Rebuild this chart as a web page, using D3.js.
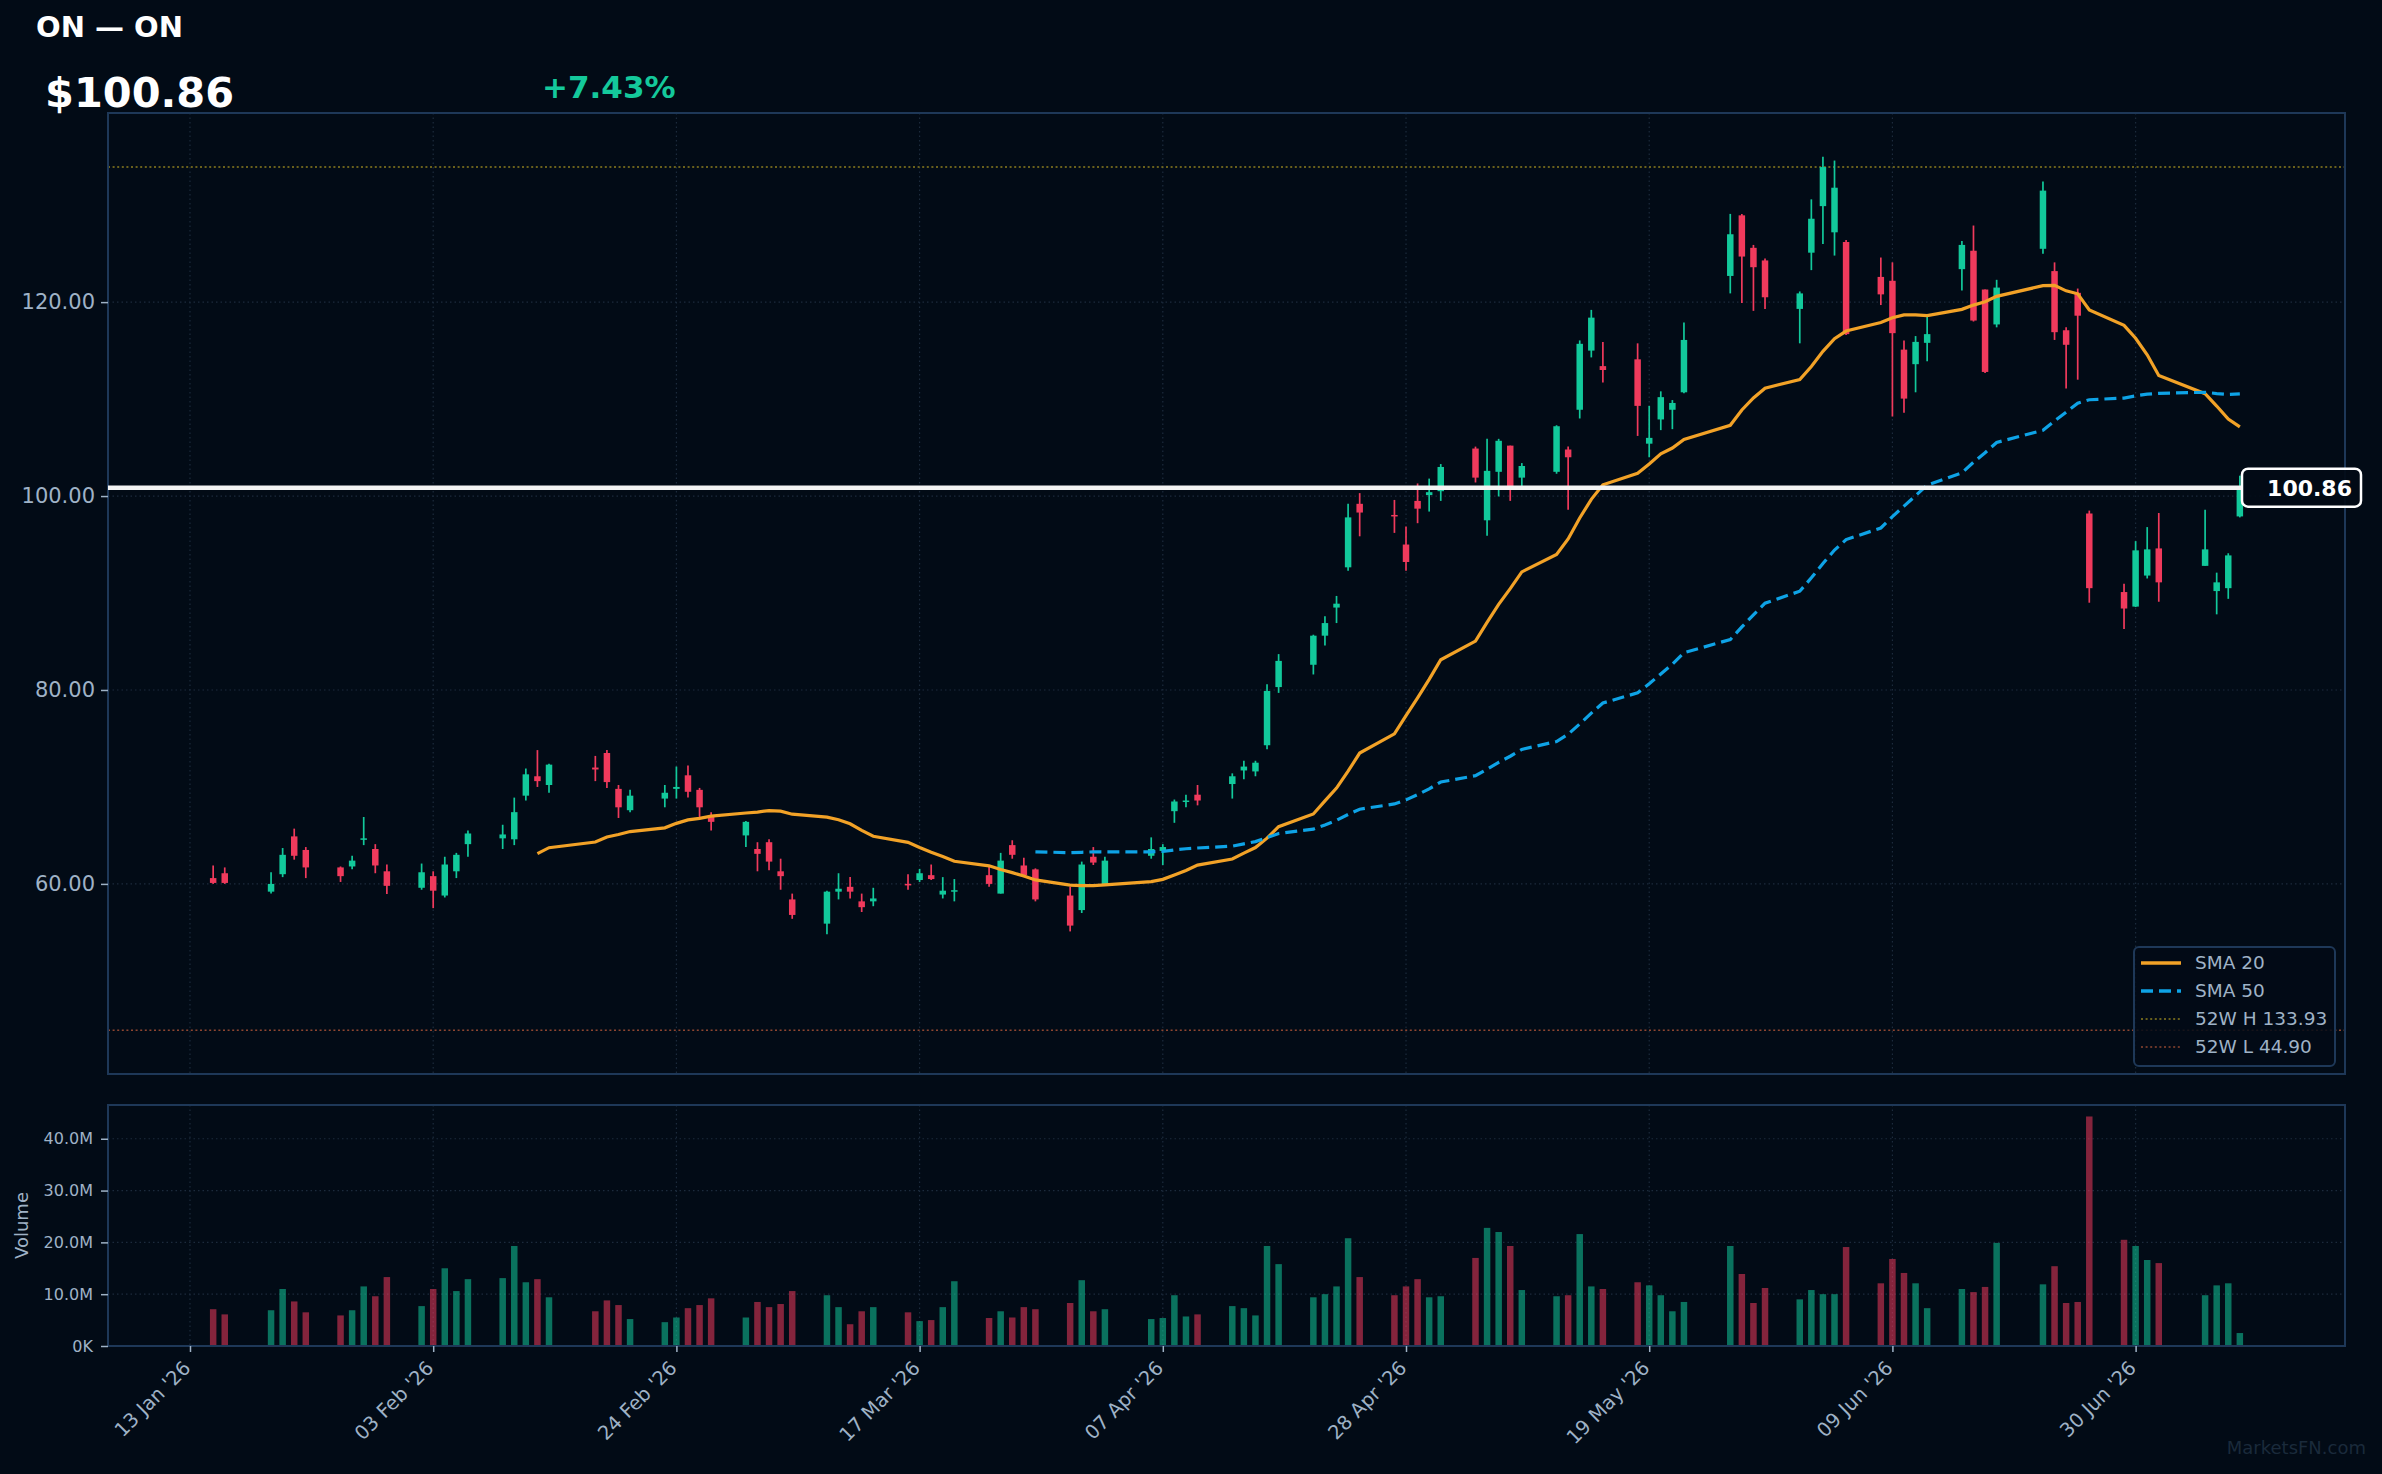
<!DOCTYPE html>
<html>
<head>
<meta charset="utf-8">
<script src="https://cdn.jsdelivr.net/npm/d3@7"></script>
<style>
  body { margin: 0; background: #020b16; }
  svg { display: block; }
  text { font-family: "DejaVu Sans", sans-serif; }
</style>
</head>
<body>
<div id="chart"></div>
<script>
const ticker = "ON — ON"
const lastPrice = 100.86
const changePct = 7.43
const high52 = 133.93
const low52 = 44.90

const dates = [
  "2026-01-15","2026-01-16","2026-01-20","2026-01-21","2026-01-22","2026-01-23",
  "2026-01-26","2026-01-27","2026-01-28","2026-01-29","2026-01-30",
  "2026-02-02","2026-02-03","2026-02-04","2026-02-05","2026-02-06",
  "2026-02-09","2026-02-10","2026-02-11","2026-02-12","2026-02-13",
  "2026-02-17","2026-02-18","2026-02-19","2026-02-20",
  "2026-02-23","2026-02-24","2026-02-25","2026-02-26","2026-02-27",
  "2026-03-02","2026-03-03","2026-03-04","2026-03-05","2026-03-06",
  "2026-03-09","2026-03-10","2026-03-11","2026-03-12","2026-03-13",
  "2026-03-16","2026-03-17","2026-03-18","2026-03-19","2026-03-20",
  "2026-03-23","2026-03-24","2026-03-25","2026-03-26","2026-03-27",
  "2026-03-30","2026-03-31","2026-04-01","2026-04-02",
  "2026-04-06","2026-04-07","2026-04-08","2026-04-09","2026-04-10",
  "2026-04-13","2026-04-14","2026-04-15","2026-04-16","2026-04-17",
  "2026-04-20","2026-04-21","2026-04-22","2026-04-23","2026-04-24",
  "2026-04-27","2026-04-28","2026-04-29","2026-04-30","2026-05-01",
  "2026-05-04","2026-05-05","2026-05-06","2026-05-07","2026-05-08",
  "2026-05-11","2026-05-12","2026-05-13","2026-05-14","2026-05-15",
  "2026-05-18","2026-05-19","2026-05-20","2026-05-21","2026-05-22",
  "2026-05-26","2026-05-27","2026-05-28","2026-05-29",
  "2026-06-01","2026-06-02","2026-06-03","2026-06-04","2026-06-05",
  "2026-06-08","2026-06-09","2026-06-10","2026-06-11","2026-06-12",
  "2026-06-15","2026-06-16","2026-06-17","2026-06-18",
  "2026-06-22","2026-06-23","2026-06-24","2026-06-25","2026-06-26",
  "2026-06-29","2026-06-30","2026-07-01","2026-07-02",
  "2026-07-06","2026-07-07","2026-07-08","2026-07-09"
]

const opens = [
  60.6, 61.1, 59.2, 61.0, 64.9, 63.5, 61.7, 61.8, 64.6, 63.6,
  61.3, 59.6, 60.8, 58.8, 61.3, 64.1, 64.7, 64.6, 69.1, 71.1,
  70.2, 72.0, 73.5, 69.8, 67.6, 68.8, 69.8, 71.2, 69.7, 67.0,
  65.0, 63.6, 64.3, 61.3, 58.4, 55.9, 59.2, 59.7, 58.2, 58.2,
  60.0, 60.4, 60.9, 58.9, 59.3, 60.9, 59.0, 64.0, 61.9, 61.5,
  58.8, 57.3, 62.8, 59.9, 62.9, 63.4, 67.5, 68.5, 69.2, 70.3,
  71.7, 71.6, 74.3, 80.3, 82.6, 85.6, 88.5, 92.65, 99.2, 98.05,
  95.0, 99.5, 100.1, 100.5, 104.9, 97.5, 102.5, 105.2, 101.9, 102.5,
  104.8, 108.9, 115.0, 113.4, 114.1, 105.4, 107.9, 108.9, 110.7, 122.7,
  128.95, 125.6, 124.3, 119.3, 125.1, 129.9, 127.2, 126.2, 122.6, 122.2,
  115.1, 113.6, 115.8, 123.4, 125.3, 121.3, 117.7, 125.5, 123.2, 117.1,
  120.96, 98.2, 90.1, 88.6, 91.8, 94.6, 92.8, 90.2, 90.5, 97.9
]

const highs = [
  61.9, 61.7, 61.2, 63.7, 65.7, 63.8, 61.8, 62.9, 66.9, 64.1,
  62.0, 62.1, 61.3, 62.8, 63.2, 65.5, 66.1, 68.9, 71.9, 73.8,
  72.4, 73.2, 73.8, 70.2, 69.7, 70.2, 72.1, 72.2, 69.9, 67.4,
  66.5, 64.3, 64.6, 62.6, 59.0, 59.3, 61.1, 60.7, 59.0, 59.6,
  61.0, 61.55, 62.0, 60.7, 60.5, 61.8, 63.2, 64.5, 62.7, 61.6,
  59.7, 62.3, 63.8, 62.8, 64.8, 64.1, 68.7, 69.2, 70.2, 71.4,
  72.7, 72.7, 80.6, 83.7, 85.7, 87.6, 89.7, 99.2, 100.3, 99.6,
  96.85, 101.3, 101.8, 103.3, 105.1, 105.9, 105.9, 105.2, 103.4, 107.3,
  105.1, 116.05, 119.2, 115.9, 115.75, 109.3, 110.8, 109.9, 117.9, 129.1,
  129.1, 125.9, 124.5, 121.1, 130.6, 135.0, 134.6, 126.4, 124.6, 124.1,
  116.05, 116.5, 118.6, 126.3, 127.9, 121.3, 122.3, 132.45, 124.1, 117.4,
  121.4, 98.5, 90.95, 95.35, 96.8, 98.25, 98.6, 92.1, 94.1, 102.1
]

const lows = [
  60.0, 60.0, 59.0, 60.7, 62.5, 60.6, 60.2, 61.5, 64.0, 61.1,
  58.97, 59.4, 57.5, 58.6, 60.6, 62.8, 63.6, 64.0, 68.6, 70.0,
  69.4, 70.6, 69.9, 66.8, 67.4, 67.9, 68.8, 68.9, 66.9, 65.5,
  63.8, 61.3, 61.4, 59.4, 56.4, 54.8, 58.4, 58.5, 57.1, 57.7,
  59.4, 60.2, 60.4, 58.5, 58.2, 59.7, 59.0, 62.6, 60.7, 58.2,
  55.1, 57.0, 61.95, 59.8, 62.6, 61.95, 66.3, 67.9, 68.1, 68.8,
  70.8, 71.1, 73.9, 79.7, 81.6, 84.6, 86.9, 92.3, 95.85, 96.2,
  92.3, 97.2, 98.4, 99.5, 101.4, 95.9, 99.96, 99.5, 100.8, 102.3,
  98.6, 108.0, 114.3, 111.7, 106.2, 104.0, 106.8, 106.9, 110.6, 120.9,
  119.9, 119.1, 119.3, 115.75, 123.3, 126.0, 124.8, 116.6, 119.7, 108.2,
  108.6, 110.7, 113.9, 121.2, 118.0, 112.7, 117.4, 125.0, 116.1, 111.1,
  112.0, 89.0, 86.3, 88.55, 91.5, 89.1, 92.8, 87.8, 89.4, 97.8
]

const closes = [
  60.1, 60.1, 60.0, 63.0, 62.9, 61.7, 60.8, 62.4, 64.7, 61.9,
  59.8, 61.2, 59.3, 62.0, 63.0, 65.2, 65.1, 67.4, 71.3, 70.6,
  72.3, 71.8, 70.5, 67.9, 69.1, 69.4, 70.0, 69.5, 67.9, 66.4,
  66.4, 63.1, 62.3, 60.8, 56.8, 59.2, 59.5, 59.2, 57.6, 58.5,
  59.9, 61.1, 60.5, 59.3, 59.35, 60.0, 62.4, 63.0, 60.9, 58.4,
  55.7, 62.0, 62.2, 62.4, 63.6, 63.8, 68.5, 68.6, 68.6, 71.1,
  72.1, 72.5, 79.9, 83.0, 85.6, 86.9, 88.9, 97.8, 98.3, 97.9,
  93.2, 98.7, 100.4, 103.0, 101.9, 102.6, 105.7, 100.9, 103.1, 107.2,
  104.0, 115.7, 118.4, 113.0, 109.3, 106.0, 110.2, 109.6, 116.1, 127.0,
  124.7, 123.6, 120.5, 120.9, 128.6, 133.93, 131.8, 116.7, 120.8, 116.8,
  110.05, 115.9, 116.7, 125.9, 118.1, 112.8, 121.5, 131.5, 116.9, 115.6,
  118.6, 90.5, 88.4, 94.4, 94.5, 91.1, 94.5, 91.1, 93.88, 100.86
]

// volume in millions
const volumes = [
  7.1, 6.1, 6.9, 11.0, 8.6, 6.5, 5.9, 6.9, 11.5, 9.6,
  13.3, 7.7, 11.0, 15.0, 10.6, 12.9, 13.1, 19.3, 12.3, 12.9,
  9.4, 6.7, 8.8, 7.9, 5.2, 4.6, 5.5, 7.3, 7.9, 9.2,
  5.5, 8.5, 7.5, 8.1, 10.6, 9.8, 7.5, 4.2, 6.7, 7.5,
  6.5, 4.8, 5.0, 7.5, 12.5, 5.4, 6.7, 5.5, 7.5, 7.1,
  8.3, 12.7, 6.7, 7.1, 5.2, 5.4, 9.8, 5.7, 6.1, 7.7,
  7.3, 5.9, 19.3, 15.8, 9.4, 10.0, 11.5, 20.8, 13.3, 9.8,
  11.5, 12.9, 9.4, 9.6, 17.0, 22.8, 22.0, 19.3, 10.8, 9.6,
  9.8, 21.6, 11.5, 11.0, 12.3, 11.7, 9.8, 6.7, 8.5, 19.3,
  13.9, 8.3, 11.2, 9.0, 10.8, 10.0, 10.0, 19.1, 12.1, 16.8,
  14.1, 12.1, 7.3, 11.0, 10.4, 11.4, 19.9, 11.9, 15.4, 8.3,
  8.5, 44.3, 20.5, 19.3, 16.6, 16.0, 9.8, 11.7, 12.1, 2.5
]

const tickDates = ["2026-01-13","2026-02-03","2026-02-24","2026-03-17","2026-04-07",
  "2026-04-28","2026-05-19","2026-06-09","2026-06-30"]
const priceTicks = [60, 80, 100, 120]
const volTicks = [0, 10, 20, 30, 40]

const W = 2382, H = 1474
const main = { left: 108, right: 2345, top: 113, bottom: 1074 }
const vol = { top: 1105, bottom: 1346 }

const bg = "#020b16"
const upColor = "#12c99b"
const downColor = "#f03a5c"
const frameColor = "#1e3858"
const gridColor = "#1c2b3c"
const labelColor = "#9fb2c6"

const parse = d3.utcParse("%Y-%m-%d")
let data = dates.map((d, i) => ({
  date: parse(d), open: opens[i], high: highs[i], low: lows[i], close: closes[i], volume: volumes[i]
}))

function sma(n) {
  return data.map((d, i) => i < n - 1 ? null : d3.mean(closes.slice(i - n + 1, i + 1)))
}
let sma20 = sma(20)
let sma50 = sma(50)

const dayMs = 864e5
let first = data[0].date, last = data[data.length - 1].date
let padDays = 0.05 * ((last - first) / dayMs + 0.6) + 0.3
let xScale = d3.scaleUtc()
  .domain([new Date(+first - padDays * dayMs), new Date(+last + padDays * dayMs)])
  .range([main.left, main.right])
let pxDay = xScale(new Date(+first + dayMs)) - xScale(first)

let pMin = Math.min(d3.min(lows), low52), pMax = Math.max(d3.max(highs), high52)
let pPad = (pMax - pMin) * 0.05
let yScale = d3.scaleLinear().domain([pMin - pPad, pMax + pPad]).range([main.bottom, main.top])
let vScale = d3.scaleLinear().domain([0, d3.max(volumes) * 1.05]).range([vol.bottom, vol.top])

let svg = d3.select("#chart").append("svg")
  .attr("width", W)
  .attr("height", H)
  .style("background", bg)

let tickDateObjs = tickDates.map(parse)

// grid
let grid = svg.append("g")
grid.selectAll(".vgrid").data(tickDateObjs).enter().append("line")
  .attr("x1", d => xScale(d)).attr("x2", d => xScale(d))
  .attr("y1", main.top).attr("y2", main.bottom)
  .attr("stroke", gridColor).attr("stroke-width", 1.2).attr("stroke-dasharray", "1.5,3")
grid.selectAll(".vgrid2").data(tickDateObjs).enter().append("line")
  .attr("x1", d => xScale(d)).attr("x2", d => xScale(d))
  .attr("y1", vol.top).attr("y2", vol.bottom)
  .attr("stroke", gridColor).attr("stroke-width", 1.2).attr("stroke-dasharray", "1.5,3")
grid.selectAll(".hgrid").data(priceTicks).enter().append("line")
  .attr("x1", main.left).attr("x2", main.right)
  .attr("y1", d => yScale(d)).attr("y2", d => yScale(d))
  .attr("stroke", gridColor).attr("stroke-width", 1.2).attr("stroke-dasharray", "1.5,3")
grid.selectAll(".vhgrid").data(volTicks.slice(1)).enter().append("line")
  .attr("x1", main.left).attr("x2", main.right)
  .attr("y1", d => vScale(d)).attr("y2", d => vScale(d))
  .attr("stroke", gridColor).attr("stroke-width", 1.2).attr("stroke-dasharray", "1.5,3")

// 52 week lines
svg.append("line")
  .attr("x1", main.left).attr("x2", main.right)
  .attr("y1", yScale(high52)).attr("y2", yScale(high52))
  .attr("stroke", "#8c7d1f").attr("stroke-width", 1.6).attr("stroke-dasharray", "2,2.6")
svg.append("line")
  .attr("x1", main.left).attr("x2", main.right)
  .attr("y1", yScale(low52)).attr("y2", yScale(low52))
  .attr("stroke", "#8e4631").attr("stroke-width", 1.6).attr("stroke-dasharray", "2,2.6")

// volume bars
let bw = 0.56 * pxDay
svg.append("g").selectAll("rect").data(data).enter().append("rect")
  .attr("x", d => xScale(d.date) - bw / 2)
  .attr("width", bw)
  .attr("y", d => vScale(d.volume))
  .attr("height", d => vol.bottom - vScale(d.volume))
  .attr("fill", d => d.close >= d.open ? upColor : downColor)
  .attr("fill-opacity", 0.55)

// candles
let candles = svg.append("g").selectAll("g").data(data).enter().append("g")
candles.append("line")
  .attr("x1", d => xScale(d.date)).attr("x2", d => xScale(d.date))
  .attr("y1", d => yScale(d.high)).attr("y2", d => yScale(d.low))
  .attr("stroke", d => d.close >= d.open ? upColor : downColor)
  .attr("stroke-width", 1.7)
candles.append("rect")
  .attr("x", d => xScale(d.date) - bw / 2)
  .attr("width", bw)
  .attr("y", d => yScale(Math.max(d.open, d.close)))
  .attr("height", d => Math.max(1.5, Math.abs(yScale(d.open) - yScale(d.close))))
  .attr("fill", d => d.close >= d.open ? upColor : downColor)

// moving averages
let smaLine = arr => d3.line()
  .defined((d, i) => arr[i] != null)
  .x(d => xScale(d.date))
  .y((d, i) => yScale(arr[i]))
svg.append("path").datum(data)
  .attr("d", smaLine(sma20))
  .attr("fill", "none").attr("stroke", "#f2a227").attr("stroke-width", 3.2)
svg.append("path").datum(data)
  .attr("d", smaLine(sma50))
  .attr("fill", "none").attr("stroke", "#0ea3e6").attr("stroke-width", 3.2)
  .attr("stroke-dasharray", "12,6")

// frames
svg.append("rect")
  .attr("x", main.left).attr("y", main.top)
  .attr("width", main.right - main.left).attr("height", main.bottom - main.top)
  .attr("fill", "none").attr("stroke", frameColor).attr("stroke-width", 2)
svg.append("rect")
  .attr("x", main.left).attr("y", vol.top)
  .attr("width", main.right - main.left).attr("height", vol.bottom - vol.top)
  .attr("fill", "none").attr("stroke", frameColor).attr("stroke-width", 2)

// axes
let yAxis = d3.axisLeft(yScale).tickValues(priceTicks).tickFormat(d3.format(".2f")).tickSize(7).tickPadding(6)
let gy = svg.append("g").attr("transform", `translate(${main.left},0)`).call(yAxis)
gy.select(".domain").remove()
gy.selectAll("line").attr("stroke", labelColor).attr("stroke-width", 1.5)
gy.selectAll("text").attr("fill", labelColor).style("font-size", "21px")

let vAxis = d3.axisLeft(vScale).tickValues(volTicks)
  .tickFormat(d => d === 0 ? "0K" : d.toFixed(1) + "M").tickSize(7).tickPadding(8)
let gv = svg.append("g").attr("transform", `translate(${main.left},0)`).call(vAxis)
gv.select(".domain").remove()
gv.selectAll("line").attr("stroke", labelColor).attr("stroke-width", 1.5)
gv.selectAll("text").attr("fill", labelColor).style("font-size", "16px")

let xAxis = d3.axisBottom(xScale).tickValues(tickDateObjs).tickFormat(d3.utcFormat("%d %b '%y")).tickSize(6)
let gx = svg.append("g").attr("transform", `translate(0,${vol.bottom})`).call(xAxis)
gx.select(".domain").remove()
gx.selectAll("line").attr("stroke", labelColor).attr("stroke-width", 1.5)
gx.selectAll("text")
  .attr("fill", labelColor)
  .style("font-size", "19.5px")
  .attr("text-anchor", "end")
  .attr("dy", "0.35em")
  .attr("transform", "translate(-10,12) rotate(-45)")

svg.append("text")
  .attr("transform", `translate(28,${(vol.top + vol.bottom) / 2}) rotate(-90)`)
  .attr("text-anchor", "middle")
  .attr("fill", labelColor)
  .style("font-size", "18px")
  .text("Volume")

// last price line + tag
let yLast = yScale(lastPrice)
svg.append("line")
  .attr("x1", main.left).attr("x2", 2242)
  .attr("y1", yLast).attr("y2", yLast)
  .attr("stroke", "#f4f4f4").attr("stroke-width", 4.5)
svg.append("rect")
  .attr("x", 2242).attr("y", yLast - 19)
  .attr("width", 119).attr("height", 38).attr("rx", 6)
  .attr("fill", bg).attr("fill-opacity", 0.92)
  .attr("stroke", "#ffffff").attr("stroke-width", 2.5)
svg.append("text")
  .attr("x", 2352).attr("y", yLast + 8)
  .attr("text-anchor", "end")
  .attr("fill", "#ffffff")
  .style("font-size", "22px").style("font-weight", "bold")
  .text(lastPrice.toFixed(2))

// legend
let legendItems = [
  { label: "SMA 20", color: "#f2a227", dash: null, w: 3.5 },
  { label: "SMA 50", color: "#0ea3e6", dash: "12,6", w: 3.5 },
  { label: `52W H ${high52.toFixed(2)}`, color: "#8c7d1f", dash: "2,2.6", w: 1.6 },
  { label: `52W L ${low52.toFixed(2)}`, color: "#8e4631", dash: "2,2.6", w: 1.6 }
]
let legend = svg.append("g")
legend.append("rect")
  .attr("x", 2134).attr("y", 947).attr("width", 201).attr("height", 119).attr("rx", 5)
  .attr("fill", bg).attr("fill-opacity", 0.85)
  .attr("stroke", frameColor).attr("stroke-width", 2)
legendItems.forEach((d, i) => {
  let ly = 963 + i * 28
  legend.append("line")
    .attr("x1", 2141).attr("x2", 2181).attr("y1", ly).attr("y2", ly)
    .attr("stroke", d.color).attr("stroke-width", d.w)
    .attr("stroke-dasharray", d.dash)
  legend.append("text")
    .attr("x", 2195).attr("y", ly).attr("dy", "0.35em")
    .attr("fill", labelColor)
    .style("font-size", "18.5px")
    .text(d.label)
})

// header
svg.append("text")
  .attr("x", 36).attr("y", 37)
  .attr("fill", "#ffffff")
  .style("font-size", "29px").style("font-weight", "bold")
  .text(ticker)
svg.append("text")
  .attr("x", 45).attr("y", 107)
  .attr("fill", "#ffffff")
  .style("font-size", "41.5px").style("font-weight", "bold")
  .text("$" + lastPrice.toFixed(2))
svg.append("text")
  .attr("x", 542).attr("y", 98)
  .attr("fill", changePct >= 0 ? "#14c99b" : downColor)
  .style("font-size", "31px").style("font-weight", "bold")
  .text((changePct >= 0 ? "+" : "") + changePct.toFixed(2) + "%")

svg.append("text")
  .attr("x", 2366).attr("y", 1454)
  .attr("text-anchor", "end")
  .attr("fill", "#1a2a3b")
  .style("font-size", "18px")
  .text("MarketsFN.com")
</script>
</body>
</html>
